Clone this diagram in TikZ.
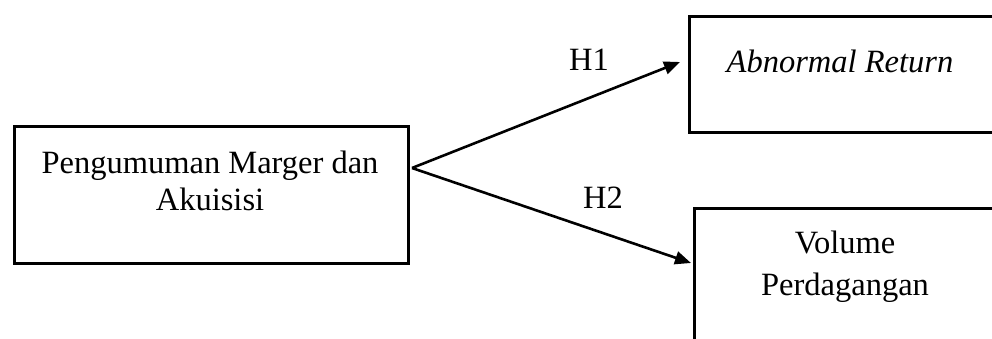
\documentclass[tikz,border=0pt]{standalone}
\usepackage{fontspec}
\setmainfont{Liberation Serif}
\usetikzlibrary{arrows.meta}
\begin{document}
\begin{tikzpicture}[x=1pt,y=-1pt,
  box/.style={draw=black,line width=2.9pt,rectangle,inner sep=0pt,anchor=north west},
  txt/.style={inner sep=0pt,anchor=base,font=\fontsize{32.5}{37}\selectfont,align=center},
  link/.style={line width=2.6pt,-{Triangle[length=16pt,width=13pt]}}]
\useasboundingbox (0,0) rectangle (992,338);
\clip (0,0) rectangle (992,338);
% boxes
\node[box,minimum width=394pt,minimum height=137pt] (lbox) at (13,125) {};
\node[box,minimum width=330pt,minimum height=116pt] (tbox) at (688,15) {};
\node[box,minimum width=330pt,minimum height=160pt] (bbox) at (693,207) {};
% texts
\node[txt] (l1) at (210,173) {Pengumuman Marger dan};
\node[txt] (l2) at (210,210) {Akuisisi};
\node[txt] (t1) at (840,72) {\itshape Abnormal Return};
\node[txt] (b1) at (845,253) {Volume};
\node[txt] (b2) at (845,295) {Perdagangan};
% connectors
\coordinate (src) at (412,168);
\coordinate (tipA) at (680,62);
\coordinate (tipB) at (691,263);
\draw[link] (src) -- (tipA);
\draw[link] (src) -- (tipB);
\node[txt] (h1) at (589,70) {H1};
\node[txt] (h2) at (603,208) {H2};
\end{tikzpicture}
\end{document}
